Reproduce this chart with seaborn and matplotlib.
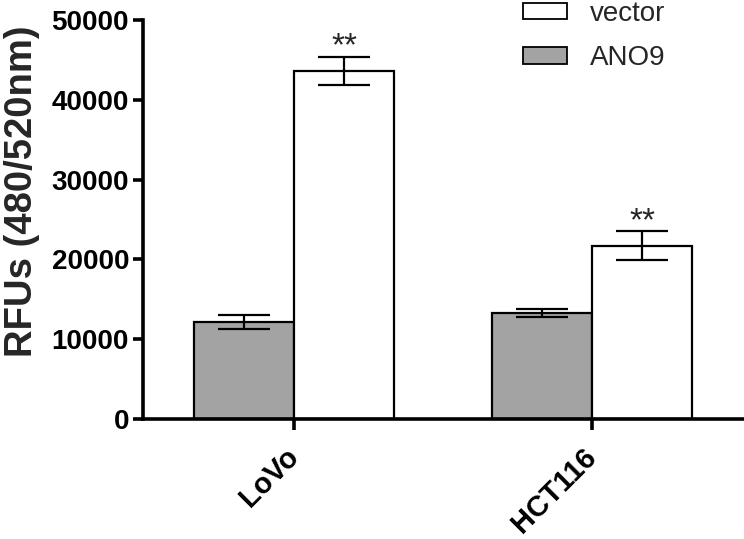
import matplotlib
matplotlib.use("Agg")
import matplotlib.pyplot as plt
import seaborn as sns
import pandas as pd
from matplotlib.patches import Patch

cells = ["LoVo", "HCT116"]
groups = ["ANO9", "vector"]
ano9_values = [12150, 13250]
ano9_errors = [900, 500]
vector_values = [43650, 21700]
vector_errors = [1760, 1830]
significance = ["**", "**"]
y_ticks = [0, 10000, 20000, 30000, 40000, 50000]

df = pd.DataFrame({
    "cell": cells * 2,
    "group": ["ANO9"] * len(cells) + ["vector"] * len(cells),
    "value": ano9_values + vector_values,
})

sns.set_theme(style="ticks")
plt.rcParams["font.family"] = ["Liberation Sans", "DejaVu Sans"]

fig = plt.figure(figsize=(7.44, 5.39), dpi=100)
ax = fig.add_axes([143 / 744, 1 - 419 / 539, (744 - 143) / 744, (419 - 20) / 539])

palette = {"ANO9": "#a3a3a3", "vector": "#ffffff"}
sns.barplot(data=df, x="cell", y="value", hue="group", hue_order=groups,
            order=cells, palette=palette, edgecolor="black", linewidth=1.6,
            errorbar=None, width=0.671, gap=0, ax=ax, legend=False,
            saturation=1)

err_map = {"ANO9": ano9_errors, "vector": vector_errors}
for gi, g in enumerate(groups):
    cont = ax.containers[gi]
    xs = [p.get_x() + p.get_width() / 2 for p in cont]
    hs = [p.get_height() for p in cont]
    ax.errorbar(xs, hs, yerr=err_map[g], fmt="none", ecolor="black",
                elinewidth=1.6, capsize=18.5, capthick=1.6, zorder=5)
    if g == "vector":
        for x, h, e, s in zip(xs, hs, err_map[g], significance):
            ax.annotate(s, (x, h + e), xytext=(0, -4), textcoords="offset points",
                        ha="center", va="bottom", fontsize=24)

ax.set_ylim(0, 50000)
ax.set_yticks(y_ticks)
ax.set_yticklabels([str(t) for t in y_ticks], fontsize=20, fontweight="bold")
ax.set_xlim(-0.507, 1.51)
ax.set_xlabel("")
ax.set_ylabel("RFUs (480/520nm)", fontsize=27.5, fontweight="bold")
ax.yaxis.set_label_coords(-0.172, 0.572)

ax.set_xticks(range(len(cells)))
ax.set_xticklabels(cells, fontsize=21, fontweight="bold")
plt.setp(ax.get_xticklabels(), rotation=45, ha="right", va="center",
         rotation_mode="anchor")

for side in ["top", "right"]:
    ax.spines[side].set_visible(False)
for side in ["left", "bottom"]:
    ax.spines[side].set_linewidth(2.6)
    ax.spines[side].set_color("black")
ax.tick_params(axis="y", length=7, width=2.6, pad=3, colors="black")
ax.tick_params(axis="x", length=8, width=2.6, pad=16, colors="black")

handles = [Patch(facecolor="white", edgecolor="black", linewidth=1.3),
           Patch(facecolor="#a3a3a3", edgecolor="black", linewidth=1.3)]
fig.legend(handles, ["vector", "ANO9"], loc="upper left",
           bbox_to_anchor=(523 / 744, 1 - 1 / 539), frameon=False, fontsize=20,
           handlelength=1.58, handleheight=0.54, handletextpad=0.83,
           labelspacing=0.66, borderpad=0, borderaxespad=0)

fig.savefig("out.png", dpi=100)
